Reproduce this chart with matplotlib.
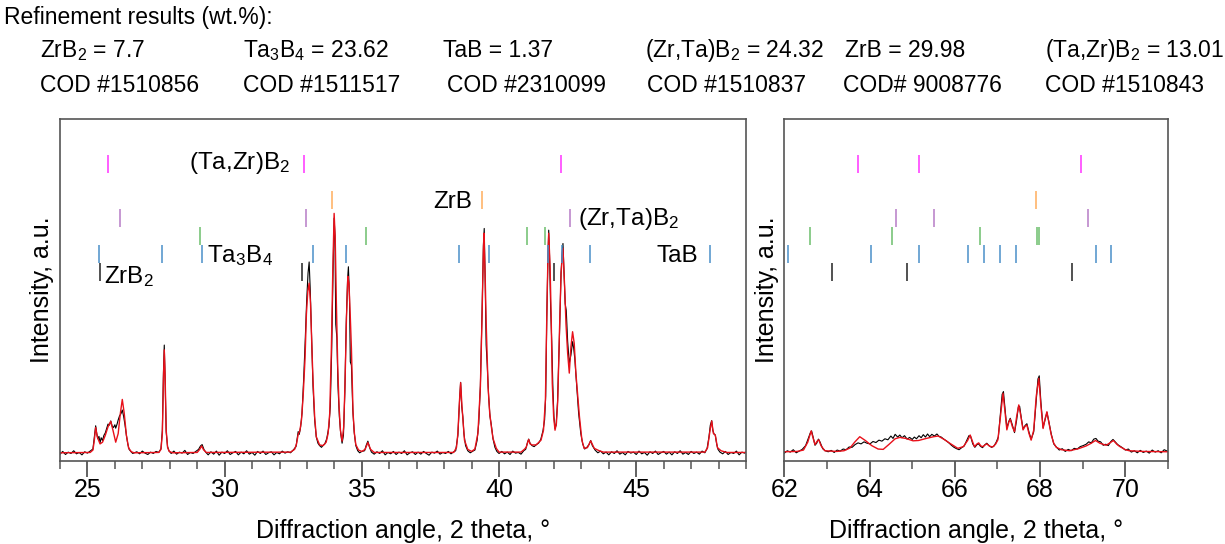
import numpy as np
import matplotlib
matplotlib.use("Agg")
import matplotlib.pyplot as plt

plt.rcParams["font.family"] = ["Liberation Sans", "DejaVu Sans"]
plt.rcParams["mathtext.default"] = "regular"

# ---- refinement summary (header) ----
phase_names = ["ZrB$_2$", "Ta$_3$B$_4$", "TaB", "(Zr,Ta)B$_2$", "ZrB", "(Ta,Zr)B$_2$"]
phase_wt = ["7.7", "23.62", "1.37", "24.32", "29.98", "13.01"]
phase_cod = ["COD #1510856", "COD #1511517", "COD #2310099",
             "COD #1510837", "COD# 9008776", "COD #1510843"]

# ---- observed pattern (black), 2theta / intensity (a.u.) ----
obs_left = [
    (24.0, 2.0), (24.1, 2.8), (24.2, 1.9), (24.3, 2.6), (24.4, 2.2), (24.5, 3.0), (24.6, 2.1),
    (24.7, 2.5), (24.8, 1.8), (24.9, 2.7), (25.0, 2.3), (25.1, 2.9), (25.2, 3.5), (25.25, 7.0),
    (25.30, 10.3), (25.34, 8.0), (25.38, 6.5), (25.42, 7.2), (25.46, 5.3), (25.5, 6.8), (25.55, 6.0),
    (25.6, 7.5), (25.65, 8.2), (25.7, 9.5), (25.75, 10.8), (25.8, 10.5), (25.85, 11.7), (25.9, 10.2),
    (25.95, 9.8), (26.0, 10.6), (26.03, 9.6), (26.08, 10.8), (26.12, 12.0), (26.17, 13.2),
    (26.22, 13.8), (26.27, 14.9), (26.32, 13.0), (26.37, 10.5), (26.42, 7.5), (26.47, 5.0),
    (26.52, 3.4), (26.58, 2.8), (26.65, 2.2), (26.8, 2.7), (26.9, 2.1), (27.0, 2.9), (27.1, 2.3),
    (27.2, 1.9), (27.3, 2.6), (27.4, 2.2), (27.5, 2.8), (27.6, 2.5), (27.68, 3.6), (27.73, 9.0),
    (27.77, 26.0), (27.80, 33.9), (27.83, 24.0), (27.87, 8.5), (27.92, 4.2), (27.97, 3.0),
    (28.05, 2.2), (28.15, 2.9), (28.25, 2.0), (28.35, 2.6), (28.45, 2.3), (28.55, 3.1), (28.65, 1.9),
    (28.75, 2.5), (28.85, 2.2), (28.95, 2.8), (29.05, 3.4), (29.12, 4.4), (29.18, 4.8), (29.25, 3.3),
    (29.32, 2.5), (29.4, 1.8), (29.5, 2.7), (29.6, 2.0), (29.7, 2.9), (29.8, 1.7), (29.9, 2.6),
    (30.0, 2.2), (30.1, 3.0), (30.2, 1.9), (30.3, 2.4), (30.4, 2.8), (30.5, 1.8), (30.6, 2.6),
    (30.7, 2.1), (30.8, 3.0), (30.9, 2.0), (31.0, 2.5), (31.1, 1.7), (31.2, 2.8), (31.3, 2.2),
    (31.4, 2.9), (31.5, 1.9), (31.6, 2.4), (31.7, 2.7), (31.8, 1.8), (31.9, 2.5), (32.0, 2.1),
    (32.1, 2.9), (32.2, 2.3), (32.3, 2.7), (32.4, 2.4), (32.5, 3.2), (32.6, 4.2), (32.68, 8.6),
    (32.72, 7.8), (32.77, 10.0), (32.82, 14.0), (32.88, 24.0), (32.94, 36.0), (32.99, 47.0),
    (33.04, 55.0), (33.08, 58.2), (33.12, 50.0), (33.17, 36.0), (33.22, 22.0), (33.28, 12.0),
    (33.34, 7.0), (33.4, 5.2), (33.46, 4.5), (33.53, 4.0), (33.59, 4.6), (33.65, 5.0), (33.72, 6.5),
    (33.8, 10.0), (33.85, 16.0), (33.9, 32.0), (33.95, 55.0), (33.99, 71.0), (34.02, 66.0),
    (34.05, 40.0), (34.09, 36.0), (34.13, 22.0), (34.18, 13.0), (34.23, 8.0), (34.28, 5.2),
    (34.33, 7.5), (34.38, 20.0), (34.43, 40.0), (34.48, 53.0), (34.51, 56.8), (34.55, 48.0),
    (34.58, 29.0), (34.62, 28.0), (34.67, 15.0), (34.72, 8.5), (34.78, 4.5), (34.85, 3.0),
    (34.92, 2.4), (35.0, 2.8), (35.1, 3.0), (35.16, 4.6), (35.22, 5.8), (35.28, 4.0), (35.35, 2.6),
    (35.45, 2.0), (35.55, 2.7), (35.65, 2.2), (35.75, 3.0), (35.85, 1.8), (35.95, 2.5), (36.05, 2.1),
    (36.15, 2.8), (36.25, 1.9), (36.35, 2.6), (36.45, 2.2), (36.55, 3.0), (36.65, 1.8), (36.75, 2.4),
    (36.85, 2.7), (36.95, 1.9), (37.05, 2.6), (37.15, 2.0), (37.25, 2.8), (37.35, 2.2), (37.45, 1.7),
    (37.55, 2.6), (37.65, 2.3), (37.75, 2.9), (37.85, 2.0), (37.95, 2.5), (38.05, 2.2), (38.15, 2.8),
    (38.25, 2.1), (38.35, 2.7), (38.42, 3.0), (38.5, 7.5), (38.56, 17.5), (38.60, 23.0),
    (38.64, 16.0), (38.68, 13.0), (38.72, 8.0), (38.78, 4.5), (38.86, 3.0), (38.95, 2.4),
    (39.05, 2.9), (39.12, 3.2), (39.2, 6.0), (39.26, 11.0), (39.32, 22.0), (39.38, 43.0),
    (39.43, 63.0), (39.46, 68.0), (39.49, 55.0), (39.53, 34.0), (39.57, 28.0), (39.62, 19.0),
    (39.67, 13.0), (39.72, 10.5), (39.78, 6.5), (39.85, 4.0), (39.92, 2.8), (40.0, 2.2),
    (40.1, 2.8), (40.2, 2.1), (40.3, 2.6), (40.4, 1.9), (40.5, 2.9), (40.6, 2.3), (40.7, 2.5),
    (40.8, 2.0), (40.9, 3.0), (40.97, 3.4), (41.04, 5.5), (41.08, 6.4), (41.13, 5.2), (41.2, 4.5),
    (41.28, 4.2), (41.36, 4.8), (41.44, 5.2), (41.52, 6.3), (41.6, 8.8), (41.66, 12.0),
    (41.70, 19.0), (41.74, 42.0), (41.78, 59.0), (41.81, 67.5), (41.84, 60.0), (41.88, 45.0),
    (41.92, 35.0), (41.96, 22.0), (42.0, 13.0), (42.04, 9.5), (42.08, 10.5), (42.13, 17.0),
    (42.2, 36.0), (42.26, 55.0), (42.30, 61.0), (42.33, 63.6), (42.37, 55.0), (42.41, 46.0),
    (42.45, 44.0), (42.5, 35.0), (42.56, 28.6), (42.62, 31.0), (42.68, 34.9), (42.72, 33.0),
    (42.76, 30.0), (42.82, 23.0), (42.9, 14.0), (42.98, 8.0), (43.05, 5.0), (43.12, 3.5),
    (43.2, 4.0), (43.28, 4.8), (43.34, 6.0), (43.4, 4.5), (43.5, 3.2), (43.6, 2.4), (43.7, 2.9),
    (43.8, 2.1), (43.9, 2.6), (44.0, 1.8), (44.1, 2.7), (44.2, 2.2), (44.3, 3.0), (44.4, 2.0),
    (44.5, 2.5), (44.6, 1.8), (44.7, 2.8), (44.8, 2.3), (44.9, 2.6), (45.0, 1.9), (45.1, 2.9),
    (45.2, 2.1), (45.3, 2.5), (45.4, 1.7), (45.5, 2.7), (45.6, 2.2), (45.7, 2.9), (45.8, 1.9),
    (45.9, 2.4), (46.0, 2.8), (46.1, 2.0), (46.2, 2.6), (46.3, 1.8), (46.4, 2.7), (46.5, 2.2),
    (46.6, 3.0), (46.7, 2.0), (46.8, 2.5), (46.9, 1.9), (47.0, 2.8), (47.1, 2.2), (47.2, 2.6),
    (47.3, 2.0), (47.4, 2.9), (47.5, 2.4), (47.58, 3.6), (47.65, 7.0), (47.70, 10.5),
    (47.75, 11.8), (47.79, 9.0), (47.84, 7.8), (47.88, 7.6), (47.93, 5.0), (47.98, 3.4),
    (48.05, 2.6), (48.15, 2.1), (48.25, 2.8), (48.35, 1.9), (48.45, 2.5), (48.55, 2.2),
    (48.65, 2.9), (48.75, 1.8), (48.85, 2.6), (48.95, 2.3), (49.0, 2.6),
]

obs_right = [
    (62.0, 2.3), (62.07, 3.0), (62.14, 2.6), (62.21, 3.3), (62.28, 2.4), (62.35, 2.9), (62.42, 3.4),
    (62.5, 4.5), (62.56, 6.5), (62.61, 8.2), (62.64, 8.8), (62.68, 6.8), (62.72, 4.6), (62.76, 5.2),
    (62.8, 6.4), (62.84, 5.5), (62.9, 3.6), (62.96, 3.0), (63.03, 2.7), (63.1, 3.1), (63.17, 2.5),
    (63.24, 3.2), (63.31, 2.9), (63.38, 3.5), (63.45, 3.3), (63.52, 4.1), (63.59, 4.0), (63.66, 4.8),
    (63.73, 5.3), (63.8, 5.0), (63.87, 5.6), (63.94, 5.2), (64.01, 5.0), (64.08, 5.7), (64.15, 5.4),
    (64.22, 6.1), (64.29, 5.8), (64.36, 6.5), (64.43, 6.2), (64.5, 7.3), (64.55, 6.6), (64.6, 7.8),
    (64.66, 7.0), (64.71, 7.6), (64.76, 6.8), (64.82, 7.4), (64.88, 6.4), (64.94, 6.9), (65.0, 6.3),
    (65.05, 7.0), (65.1, 6.5), (65.16, 7.4), (65.21, 6.8), (65.26, 7.7), (65.31, 7.0), (65.36, 7.9),
    (65.41, 7.1), (65.46, 7.8), (65.52, 7.3), (65.58, 7.9), (65.63, 7.2), (65.68, 7.0), (65.74, 6.4),
    (65.8, 5.9), (65.86, 5.3), (65.92, 4.6), (65.98, 4.0), (66.04, 3.6), (66.1, 3.3), (66.16, 3.9),
    (66.22, 4.4), (66.28, 6.0), (66.33, 7.4), (66.37, 7.2), (66.42, 5.0), (66.47, 4.0), (66.52, 4.8),
    (66.56, 5.0), (66.6, 4.3), (66.65, 3.9), (66.7, 4.7), (66.75, 5.2), (66.8, 4.5), (66.86, 4.0),
    (66.92, 4.4), (66.97, 5.5), (67.02, 7.0), (67.07, 14.0), (67.11, 19.5), (67.14, 20.3),
    (67.18, 15.0), (67.22, 9.6), (67.26, 11.4), (67.3, 12.5), (67.35, 10.5), (67.4, 8.3),
    (67.45, 12.0), (67.49, 15.8), (67.52, 16.0), (67.56, 12.5), (67.6, 9.4), (67.65, 10.4),
    (67.69, 10.9), (67.74, 8.4), (67.79, 6.4), (67.85, 8.5), (67.91, 18.0), (67.95, 24.0),
    (67.98, 24.9), (68.02, 17.0), (68.07, 9.8), (68.12, 12.3), (68.16, 14.2), (68.21, 11.2),
    (68.26, 8.0), (68.32, 5.0), (68.38, 4.1), (68.45, 3.2), (68.52, 3.6), (68.59, 2.8), (68.66, 3.4),
    (68.73, 3.0), (68.8, 3.7), (68.87, 3.5), (68.94, 4.2), (69.01, 4.5), (69.08, 4.9), (69.14, 5.6),
    (69.2, 5.3), (69.26, 6.4), (69.31, 6.6), (69.36, 5.8), (69.42, 5.6), (69.48, 4.6), (69.54, 4.9),
    (69.6, 4.5), (69.66, 5.7), (69.71, 6.3), (69.76, 5.6), (69.82, 4.8), (69.88, 4.3), (69.94, 3.8),
    (70.0, 3.2), (70.07, 3.5), (70.14, 2.6), (70.21, 3.0), (70.28, 2.4), (70.35, 3.1), (70.42, 2.5),
    (70.49, 2.9), (70.56, 2.3), (70.63, 3.2), (70.7, 2.6), (70.77, 3.0), (70.84, 2.4), (70.91, 3.3),
    (71.0, 2.8),
]

# ---- calculated pattern (red) ----
calc_left = [
    (24.0, 2.4), (25.1, 2.5), (25.2, 3.2), (25.25, 6.0), (25.30, 9.8), (25.36, 7.0), (25.46, 5.0),
    (25.55, 5.5), (25.65, 7.5), (25.75, 10.0), (25.85, 11.6), (25.93, 9.0), (26.03, 5.5),
    (26.12, 8.0), (26.2, 14.0), (26.27, 18.0), (26.34, 14.0), (26.42, 7.5), (26.5, 3.8),
    (26.6, 2.7), (26.7, 2.4), (27.6, 2.5), (27.68, 3.4), (27.73, 8.0), (27.77, 24.0),
    (27.80, 32.5), (27.83, 25.0), (27.87, 9.0), (27.92, 4.0), (27.98, 2.8), (28.1, 2.4),
    (29.0, 2.5), (29.1, 3.5), (29.16, 4.4), (29.23, 3.3), (29.33, 2.5), (32.4, 2.6), (32.55, 3.4),
    (32.62, 5.0), (32.68, 7.8), (32.74, 8.8), (32.80, 12.0), (32.86, 18.8), (32.93, 30.0),
    (32.98, 43.0), (33.03, 49.5), (33.08, 52.0), (33.13, 46.0), (33.18, 33.0), (33.22, 23.7),
    (33.28, 13.0), (33.34, 7.1), (33.46, 4.7), (33.59, 4.5), (33.7, 5.5), (33.77, 8.0),
    (33.83, 14.0), (33.89, 33.0), (33.94, 55.0), (33.99, 72.4), (34.03, 65.0), (34.07, 47.0),
    (34.12, 28.0), (34.17, 16.0), (34.22, 9.0), (34.28, 5.8), (34.34, 10.0), (34.39, 23.7),
    (34.44, 42.0), (34.49, 54.0), (34.53, 52.0), (34.58, 42.0), (34.62, 33.0), (34.68, 14.0),
    (34.73, 8.0), (34.78, 4.8), (34.88, 3.2), (35.0, 2.8), (35.12, 3.4), (35.22, 5.4),
    (35.32, 3.4), (35.45, 2.5), (38.35, 2.5), (38.45, 4.0), (38.50, 8.1), (38.56, 17.8),
    (38.60, 22.9), (38.65, 15.9), (38.68, 12.6), (38.74, 6.1), (38.86, 3.4), (39.0, 2.8),
    (39.12, 3.5), (39.23, 8.1), (39.32, 21.7), (39.38, 42.2), (39.43, 61.7), (39.45, 66.6),
    (39.50, 52.0), (39.53, 40.7), (39.60, 21.7), (39.66, 14.0), (39.72, 10.0), (39.78, 6.6),
    (39.90, 3.7), (40.0, 2.6), (40.8, 2.6), (40.92, 3.4), (40.99, 4.0), (41.04, 5.4), (41.08, 6.3),
    (41.13, 5.0), (41.2, 4.7), (41.35, 4.7), (41.53, 6.1), (41.62, 9.0), (41.69, 17.8),
    (41.74, 42.2), (41.78, 58.8), (41.81, 66.6), (41.86, 56.8), (41.90, 42.2), (41.94, 22.7),
    (41.99, 13.0), (42.04, 9.0), (42.09, 11.0), (42.14, 17.8), (42.20, 37.3), (42.26, 54.9),
    (42.33, 62.2), (42.39, 51.0), (42.44, 40.0), (42.50, 31.5), (42.56, 25.7), (42.62, 33.4),
    (42.68, 37.8), (42.74, 34.4), (42.80, 25.7), (42.93, 13.0), (43.02, 6.1), (43.10, 3.7),
    (43.22, 3.9), (43.34, 5.9), (43.47, 3.7), (43.65, 3.0), (43.8, 2.6), (47.5, 2.6), (47.60, 3.9),
    (47.69, 9.0), (47.75, 11.7), (47.81, 8.1), (47.88, 7.6), (47.96, 3.9), (48.09, 3.0),
    (48.3, 2.5), (49.0, 2.5),
]

calc_right = [
    (62.0, 2.7), (62.3, 2.8), (62.45, 3.2), (62.55, 5.5), (62.63, 8.8), (62.68, 6.5), (62.72, 4.8),
    (62.77, 5.8), (62.81, 6.2), (62.86, 4.5), (62.95, 3.0), (63.23, 2.8), (63.4, 3.0), (63.54, 3.8),
    (63.65, 5.5), (63.77, 7.1), (63.9, 6.0), (64.05, 4.5), (64.2, 3.5), (64.32, 3.4), (64.45, 4.8),
    (64.6, 6.5), (64.71, 6.9), (64.85, 6.6), (65.02, 5.9), (65.15, 6.0), (65.33, 6.6), (65.5, 7.1),
    (65.61, 7.3), (65.75, 6.3), (65.88, 5.2), (66.07, 3.7), (66.2, 4.2), (66.3, 6.0), (66.36, 7.6),
    (66.42, 5.5), (66.46, 4.2), (66.52, 5.0), (66.56, 5.3), (66.61, 4.4), (66.66, 4.2),
    (66.72, 4.8), (66.75, 5.0), (66.82, 4.3), (66.89, 4.1), (66.96, 5.0), (67.01, 6.2),
    (67.07, 13.0), (67.13, 19.8), (67.18, 14.0), (67.22, 9.1), (67.27, 11.5), (67.30, 12.2),
    (67.35, 10.0), (67.40, 8.6), (67.45, 13.0), (67.50, 16.4), (67.55, 13.0), (67.60, 9.1),
    (67.65, 10.2), (67.69, 10.5), (67.74, 8.0), (67.79, 6.1), (67.85, 9.0), (67.91, 19.0),
    (67.97, 24.2), (68.02, 16.0), (68.07, 9.5), (68.12, 12.5), (68.16, 14.4), (68.21, 11.0),
    (68.26, 7.7), (68.32, 5.2), (68.38, 4.0), (68.5, 3.3), (68.69, 3.0), (68.9, 3.6), (69.08, 4.4),
    (69.2, 5.2), (69.30, 6.0), (69.4, 5.2), (69.55, 4.6), (69.65, 5.4), (69.72, 6.0), (69.8, 4.9),
    (69.86, 4.3), (70.0, 3.3), (70.09, 3.0), (70.4, 2.8), (71.0, 2.7),
]

# ---- Bragg reflection positions per phase (2theta) ----
refl_TaZrB2 = [25.76, 32.89, 42.26, 63.73, 65.17, 68.96]
refl_ZrB = [33.93, 39.37, 67.91]
refl_ZrTaB2 = [26.17, 32.96, 42.60, 64.62, 65.50, 69.13]
refl_Ta3B4 = [29.12, 35.16, 41.03, 41.69, 62.60, 64.52, 66.59, 67.93, 67.98]
refl_TaB = [25.41, 27.72, 29.18, 33.22, 34.44, 38.55, 39.63, 41.78, 42.30, 43.32, 47.70,
            62.09, 64.03, 65.17, 66.32, 66.69, 67.07, 67.44, 69.30, 69.67]
refl_ZrB2 = [25.46, 32.82, 41.99, 63.12, 64.88, 68.75]

# row (ymin, ymax) and colour for each phase's reflection marks
marker_rows = [
    (refl_TaZrB2, 84.2, 89.5, "#ff33ff"),
    (refl_ZrB, 73.7, 79.0, "#ffad5c"),
    (refl_ZrTaB2, 68.4, 73.7, "#b67cc6"),
    (refl_Ta3B4, 63.2, 68.4, "#6cbf6c"),
    (refl_TaB, 57.9, 63.2, "#4a8fc9"),
    (refl_ZrB2, 52.6, 57.9, "#222222"),
]

W, H = 1225, 544
fig = plt.figure(figsize=(W / 100, H / 100), dpi=100)

ax1 = fig.add_axes([60 / W, 1 - 461 / H, 686 / W, 342 / H])
ax2 = fig.add_axes([784.3 / W, 1 - 461 / H, 383.7 / W, 342 / H])

spine_col = "#555555"
for ax, obs, calc, xlim, major, minor in [
    (ax1, obs_left, calc_left, (24, 49), np.arange(25, 49, 5), np.arange(24, 50, 1)),
    (ax2, obs_right, calc_right, (62, 71), np.arange(62, 72, 2), np.arange(62, 72, 1)),
]:
    o = np.array(obs)
    c = np.array(calc)
    ax.plot(o[:, 0], o[:, 1], color="black", lw=0.8)
    ax.plot(c[:, 0], c[:, 1], color="#e8101a", lw=1.0)
    for pos, y0, y1, col in marker_rows:
        ax.vlines(pos, y0, y1, color=col, lw=1.1)
    ax.set_xlim(*xlim)
    ax.set_ylim(0, 100)
    ax.set_xticks(major)
    ax.set_xticks(minor, minor=True)
    ax.set_yticks([])
    ax.tick_params(axis="x", which="major", length=11.5, width=1.3, color=spine_col,
                   labelsize=18, pad=1)
    ax.tick_params(axis="x", which="minor", length=5.8, width=1.1, color=spine_col)
    for s in ax.spines.values():
        s.set_color(spine_col)
        s.set_linewidth(1.2)
    ax.set_xlabel("Diffraction angle, 2 theta, °", fontsize=18, labelpad=12)
    ax.set_ylabel("Intensity, a.u.", fontsize=18, labelpad=4)

# phase labels in the left panel
ax1.text(25.60, 52.0, "ZrB$_2$", fontsize=17.5, va="baseline")
ax1.text(29.35, 58.3, "Ta$_3$B$_4$", fontsize=17.5, va="baseline")
ax1.text(28.70, 85.3, "(Ta,Zr)B$_2$", fontsize=17.5, va="baseline")
ax1.text(37.61, 74.1, "ZrB", fontsize=17.5, va="baseline")
ax1.text(42.86, 69.0, "(Zr,Ta)B$_2$", fontsize=17.5, va="baseline")
ax1.text(45.73, 58.3, "TaB", fontsize=17.5, va="baseline")

# header with refinement results
fig.text(4 / W, 1 - 24 / H, "Refinement results (wt.%):", fontsize=16.5, va="baseline")
name_x = [40, 243, 443, 645, 845, 1045]
cod_x = [40, 243, 447, 647, 843, 1045]
for i in range(len(phase_names)):
    fig.text(name_x[i] / W, 1 - 57 / H, f"{phase_names[i]} = {phase_wt[i]}",
             fontsize=16.5, va="baseline")
    fig.text(cod_x[i] / W, 1 - 92 / H, phase_cod[i], fontsize=16.5, va="baseline")

fig.savefig("out.png", dpi=100)
